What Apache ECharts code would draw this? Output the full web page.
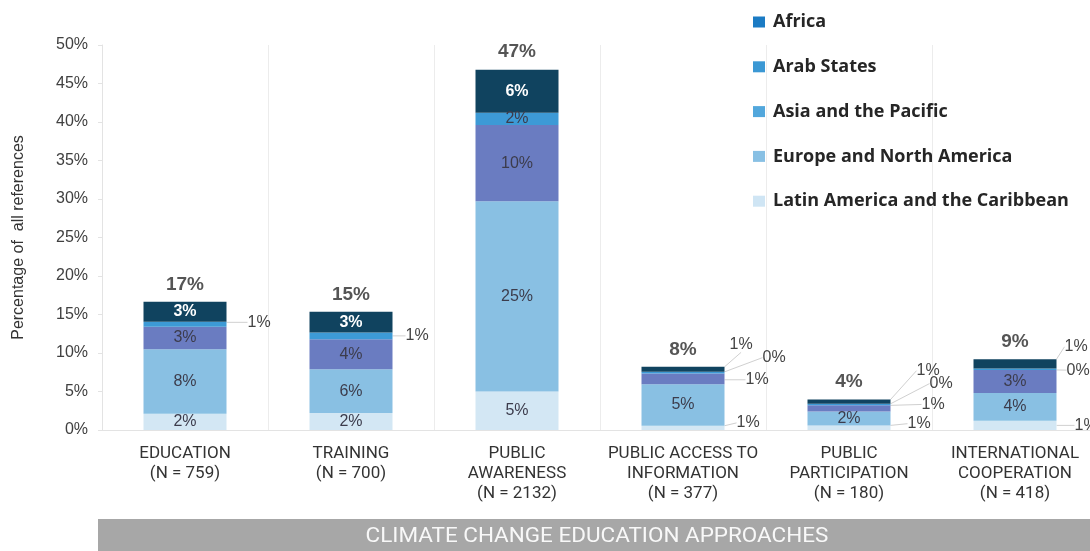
<!DOCTYPE html>
<html>
<head>
<meta charset="utf-8">
<script src="https://cdn.jsdelivr.net/npm/echarts@6/dist/echarts.min.js"></script>
<style>
    html, body {margin: 0; padding: 0; background: #fff; overflow: hidden;}
    #main {width: 1100px; height: 551px;}
</style>
</head>
<body>
<div id="main"></div>
<script>
// categories on the x axis
const categories = [
    'EDUCATION\n(N = 759)',
    'TRAINING\n(N = 700)',
    'PUBLIC\nAWARENESS\n(N = 2132)',
    'PUBLIC ACCESS TO\nINFORMATION\n(N = 377)',
    'PUBLIC\nPARTICIPATION\n(N = 180)',
    'INTERNATIONAL\nCOOPERATION\n(N = 418)'
];
const yTicks = [0, 5, 10, 15, 20, 25, 30, 35, 40, 45, 50];

// percentage of all references, stacked from the bottom
const latinValues  = [2.1, 2.2, 5.0, 0.55, 0.6, 1.2];
const europeValues = [8.4, 5.7, 24.7, 5.4, 1.8, 3.6];
const asiaValues   = [2.9, 3.9, 9.9, 1.4, 0.8, 3.0];
const arabValues   = [0.65, 0.85, 1.6, 0.2, 0.2, 0.2];
const africaValues = [2.6, 2.7, 5.6, 0.65, 0.55, 1.2];

const legendNames = ['Africa', 'Arab States', 'Asia and the Pacific', 'Europe and North America', 'Latin America and the Caribbean'];

// small segments get their label outside with a guide line: [dx, dy] from the bar's right edge
const outside = {
    'Latin America and the Caribbean': [null, null, null, [12, -5], [17, -4], [18, 0]],
    'Europe and North America': [null, null, null, null, null, null],
    'Asia and the Pacific': [null, null, null, [21, 1], [31, -4], null],
    'Arab States': [[21, -2], [13, 0], null, [38, -15], [39, -21], [10, 1]],
    'Africa': [null, null, null, [5, -25], [26, -31], [8, -17]]
};

const stackOrder = [
    {name: 'Latin America and the Caribbean', data: latinValues, color: '#d3e7f4', legend: '#cfe5f4'},
    {name: 'Europe and North America', data: europeValues, color: '#89c0e3', legend: '#88c0e4'},
    {name: 'Asia and the Pacific', data: asiaValues, color: '#6a7cc1', legend: '#52a7dc'},
    {name: 'Arab States', data: arabValues, color: '#3d9ad6', legend: '#3b98d4'},
    {name: 'Africa', data: africaValues, color: '#10435f', legend: '#1b7bc4'}
];

const numFont = '"Liberation Sans", Arial, sans-serif';
const capsFont = 'Roboto, sans-serif';

const totals = categories.map(function (c, i) {
    let t = 0;
    stackOrder.forEach(function (s) { t += s.data[i]; });
    return t;
});

const series = stackOrder.map(function (s) {
    const isDark = s.name === 'Africa';
    return {
        name: s.name,
        type: 'bar',
        stack: 'all',
        barWidth: '50%',
        itemStyle: {color: s.color},
        label: {
            show: true,
            position: 'inside',
            fontFamily: numFont,
            fontSize: 16,
            fontWeight: isDark ? 'bold' : 'normal',
            color: isDark ? '#fff' : '#3c3c4c',
            formatter: function (p) { return Math.round(p.value) + '%'; }
        },
        labelLine: {lineStyle: {color: '#d0d0d0', width: 1}},
        labelLayout: function (p) {
            const o = outside[s.name][p.dataIndex];
            if (!o) return {};
            return {dx: o[0], dy: o[1]};
        },
        data: s.data.map(function (v, i) {
            if (!outside[s.name][i]) return v;
            return {
                value: v,
                label: {position: 'right', distance: 0, color: '#444', fontWeight: 'normal'},
                labelLine: {show: true}
            };
        })
    };
});

// total on top of each bar
series.push({
    name: 'total',
    type: 'scatter',
    symbolSize: 0,
    silent: true,
    label: {
        show: true,
        position: 'top',
        distance: 8,
        fontFamily: numFont,
        fontSize: 19,
        fontWeight: 'bold',
        color: '#2b2b2b',
        formatter: function (p) { return Math.round(p.value) + '%'; }
    },
    data: totals
});

const myChart = echarts.init(document.getElementById('main'));
myChart.setOption({
    backgroundColor: '#fff',
    animation: false,
    legend: {
        orient: 'vertical',
        left: 748,
        top: 7,
        itemWidth: 12,
        itemHeight: 11,
        itemGap: 24.8,
        icon: 'rect',
        selectedMode: false,
        textStyle: {
            fontFamily: '"Open Sans", Lato, sans-serif',
            fontWeight: 'bold',
            fontSize: 18,
            lineHeight: 20,
            color: '#262626',
            padding: [0, 0, 0, 3]
        },
        data: legendNames.map(function (n) {
            const s = stackOrder.find(function (x) { return x.name === n; });
            return {name: n, itemStyle: {color: s.legend}};
        })
    },
    grid: {left: 102, right: 2, top: 45, bottom: 121},
    xAxis: {
        type: 'category',
        data: categories,
        axisLine: {lineStyle: {color: '#e3e3e3'}},
        axisTick: {show: false},
        splitLine: {show: true, lineStyle: {color: '#ececec'}},
        axisLabel: {
            interval: 0,
            margin: 14,
            fontFamily: capsFont,
            fontSize: 17,
            lineHeight: 20,
            color: '#333'
        }
    },
    yAxis: {
        type: 'value',
        min: yTicks[0],
        max: yTicks[yTicks.length - 1],
        interval: 5,
        name: 'Percentage of  all references',
        nameLocation: 'middle',
        nameGap: 75,
        nameTextStyle: {fontFamily: numFont, fontSize: 16, color: '#333'},
        axisLine: {show: true, lineStyle: {color: '#e3e3e3'}},
        axisTick: {show: true, length: 4, lineStyle: {color: '#e3e3e3'}},
        splitLine: {show: false},
        axisLabel: {
            margin: 14,
            fontFamily: numFont,
            fontSize: 16,
            color: '#404040',
            formatter: '{value}%'
        }
    },
    graphic: [
        {
            type: 'rect',
            left: 98,
            top: 519,
            shape: {width: 1010, height: 34},
            style: {fill: '#a7a7a7'}
        },
        {
            type: 'text',
            x: 597,
            y: 537,
            scaleX: 1.07,
            style: {
                text: 'CLIMATE CHANGE EDUCATION APPROACHES',
                fill: '#f8f8f8',
                fontFamily: capsFont,
                fontSize: 21,
                align: 'center',
                verticalAlign: 'middle'
            }
        }
    ],
    series: series
});
</script>
</body>
</html>
